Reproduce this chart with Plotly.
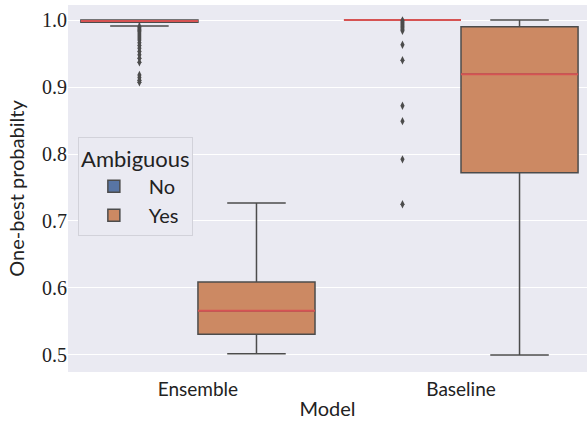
import plotly.graph_objects as go

categories = ["Ensemble", "Baseline"]
hues = ["No", "Yes"]

# precomputed box statistics per category (Ensemble, Baseline)
no_q1 = [0.9968, 1.0]
no_median = [0.9985, 1.0]
no_q3 = [1.0, 1.0]
no_lower = [0.991, 1.0]
no_upper = [1.0, 1.0]

yes_q1 = [0.531, 0.772]
yes_median = [0.566, 0.919]
yes_q3 = [0.609, 0.990]
yes_lower = [0.502, 0.500]
yes_upper = [0.727, 1.0]

no_outliers_ensemble = [0.990, 0.988, 0.986, 0.984, 0.982, 0.979, 0.976, 0.973,
                        0.970, 0.966, 0.962, 0.958, 0.953, 0.948, 0.943, 0.937,
                        0.918, 0.914, 0.910, 0.907]
no_outliers_baseline = [0.9995, 0.998, 0.996, 0.994, 0.992, 0.990, 0.988, 0.986,
                        0.984, 0.963, 0.940, 0.872, 0.849, 0.792, 0.725]

yticks = [0.5, 0.6, 0.7, 0.8, 0.9, 1.0]

colors = {"No": "#5875a4", "Yes": "#cc8963"}
edge = "#4c4c4c"
median_color = "#d65353"
offset = 0.2225
bw = 0.445

stats = {
    "No": (no_q1, no_median, no_q3, no_lower, no_upper),
    "Yes": (yes_q1, yes_median, yes_q3, yes_lower, yes_upper),
}
outliers = {"No": [no_outliers_ensemble, no_outliers_baseline], "Yes": [[], []]}

fig = go.Figure()
for h_i, h in enumerate(hues):
    off = -offset if h_i == 0 else offset
    xs = [i + off for i in range(len(categories))]
    q1, med, q3, lo, hi = stats[h]
    fig.add_trace(go.Box(
        x=xs, q1=q1, median=med, q3=q3, lowerfence=lo, upperfence=hi,
        width=bw, name=h, fillcolor=colors[h],
        line=dict(color=edge, width=1.5), whiskerwidth=0.5,
        boxpoints=False, hoverinfo="skip", showlegend=True,
    ))
    # median lines
    mx, my = [], []
    for x, m in zip(xs, med):
        mx += [x - bw / 2, x + bw / 2, None]
        my += [m, m, None]
    fig.add_trace(go.Scatter(x=mx, y=my, mode="lines",
                             line=dict(color=median_color, width=2),
                             showlegend=False, hoverinfo="skip"))
    # outliers
    for x, pts in zip(xs, outliers[h]):
        if pts:
            fig.add_trace(go.Scatter(
                x=[x] * len(pts), y=pts, mode="markers",
                marker=dict(symbol="diamond-tall", size=6, color=edge),
                showlegend=False, hoverinfo="skip"))

fig.update_layout(
    width=587, height=421,
    margin=dict(l=68, r=0, t=5, b=49),
    paper_bgcolor="white", plot_bgcolor="#eaeaf2",
    font=dict(family="Lato", size=19, color="#222222"),
    showlegend=True,
    legend=dict(
        x=0.019, y=0.64, xanchor="left", yanchor="top",
        bgcolor="#eaeaf2", bordercolor="#d2d2da", borderwidth=1,
        title=dict(text="Ambiguous", side="top center", font=dict(family="Lato", size=22)),
        font=dict(family="Lato", size=20),
        traceorder="normal", itemwidth=60, tracegroupgap=6,
    ),
)
fig.update_xaxes(
    range=[-0.494, 1.479], tickvals=list(range(len(categories))), ticktext=categories,
    showgrid=False, zeroline=False, showline=False,
    title=dict(text="Model", font=dict(family="Lato", size=20), standoff=2),
    tickfont=dict(family="Lato", size=19), ticks="", ticklabelstandoff=4,
)
fig.update_yaxes(
    range=[0.4746, 1.0224], tickvals=yticks, ticktext=[f"{v:.1f}" for v in yticks],
    showgrid=True, gridcolor="white", gridwidth=1, zeroline=False, showline=False,
    title=dict(text="One-best probabilty", font=dict(family="Lato", size=20), standoff=12),
    tickfont=dict(family="Liberation Serif", size=20), ticks="",
)

fig.write_html("out.html", config={"displayModeBar": False},
               post_script="document.body.style.margin='0px';document.body.style.overflow='hidden';")
